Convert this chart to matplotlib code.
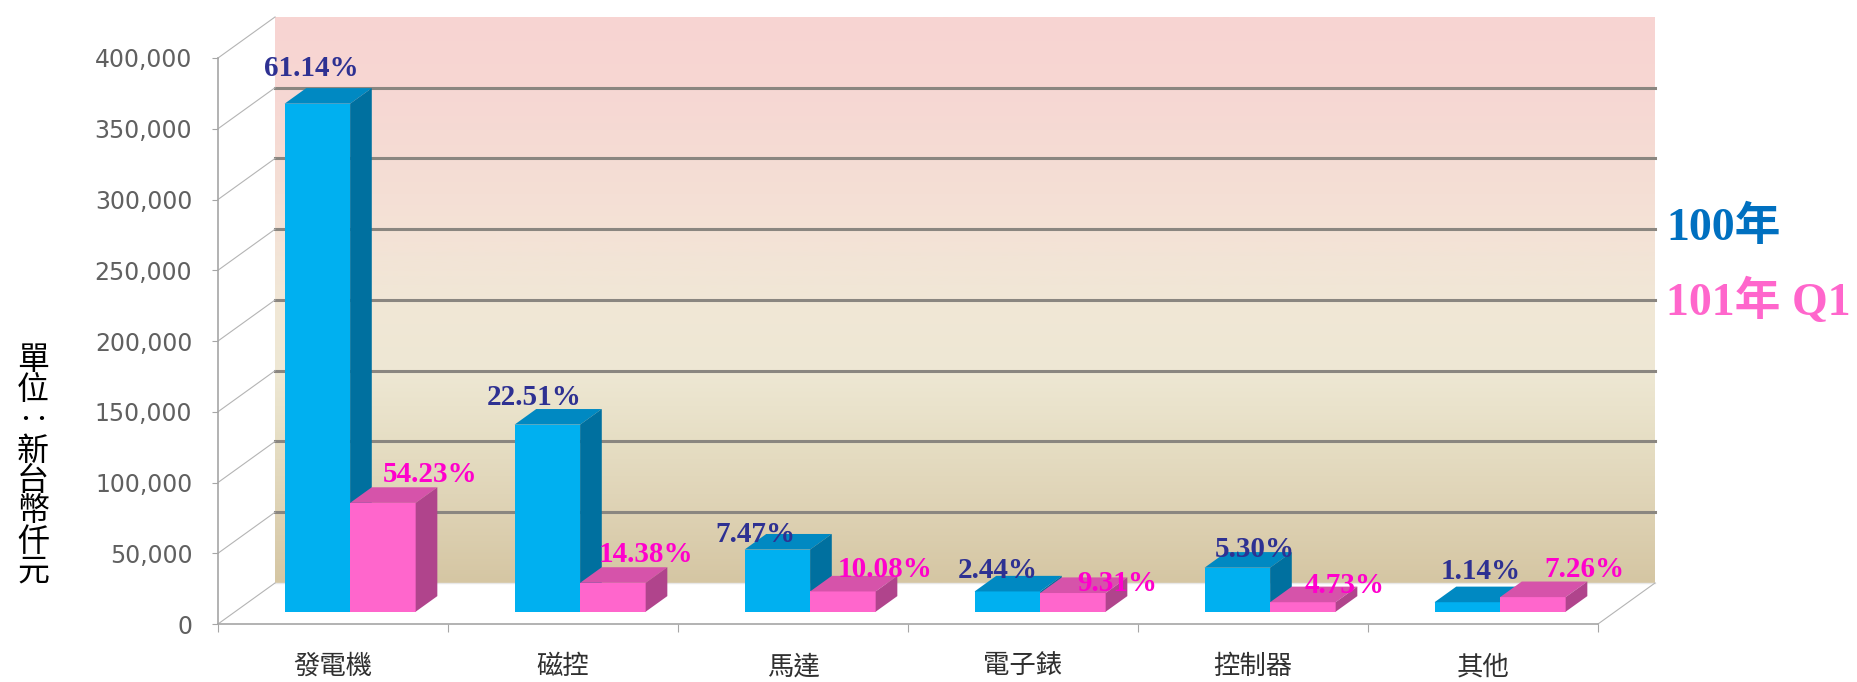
import numpy as np
import matplotlib.pyplot as plt
from matplotlib.patches import Polygon
from matplotlib.colors import LinearSegmentedColormap
from matplotlib.ticker import FuncFormatter

# data (thousand NTD)
categories = ['發電機', '磁控', '馬達', '電子錶', '控制器', '其他']
sales_100 = [359000, 132200, 43900, 14300, 31100, 6700]
sales_101q1 = [76900, 20400, 14300, 13200, 6700, 10300]
share_100 = ['61.14%', '22.51%', '7.47%', '2.44%', '5.30%', '1.14%']
share_101q1 = ['54.23%', '14.38%', '10.08%', '9.31%', '4.73%', '7.26%']
y_ticks = list(range(0, 400001, 50000))

# fake 3-D box: depth of the plot box in axis units
DX = 0.248        # in categories
DY = 29000        # in value units
BAR_D0 = 0.30     # bars stand this far back in the box
BAR_DEPTH = 0.38
BAR_W = 0.285

BLUE = ('#00B0F0', '#0089C2', '#00709F')   # front, top, side
PINK = ('#FF66CC', '#D653AA', '#B0448C')

# hand placed labels in the original (pixel nudges from bar top)
nudge_100 = [(-6, 35), (-13, 27), (-22, 15), (-10, 21), (17, 18), (13, 31)]
nudge_101 = [(47, 28), (33, 28), (42, 22), (44, 10), (42, 17), (52, 28)]

fig = plt.figure(figsize=(18.58, 6.82), dpi=100)
ax = fig.add_axes([218 / 1858, 58 / 682, 1380 / 1858, 566 / 682])

# back wall with gradient
wall = LinearSegmentedColormap.from_list('wall', [
    (0.0, '#D5C6A3'), (0.125, '#DED2B4'), (0.25, '#E6DEC4'),
    (0.376, '#EEE8D4'), (0.5, '#F1E7D6'), (0.628, '#F4E2D6'),
    (0.75, '#F5DCD4'), (0.877, '#F7D7D3'), (1.0, '#F8D4D2')])
grad = np.linspace(0, 1, 256).reshape(-1, 1)
ax.imshow(grad, extent=[DX, 6 + DX, DY, y_ticks[-1] + DY], origin='lower',
          aspect='auto', cmap=wall, clip_on=False, zorder=0)

# wall grid lines
for v in y_ticks[1:-1]:
    ax.plot([DX, 6 + DX], [v + DY, v + DY], color='#8A8680', lw=2.2,
            clip_on=False, zorder=1)
ax.plot([DX, 6 + DX], [DY, DY], color='#E8E8E8', lw=1.0, clip_on=False, zorder=1)

# side wall lines and floor edge
for v in y_ticks:
    ax.plot([0, DX], [v, v + DY], color='#B4B4B4', lw=0.8, clip_on=False, zorder=1)
ax.plot([6, 6 + DX], [0, DY], color='#B4B4B4', lw=0.8, clip_on=False, zorder=1)


def box(x0, h, base, cols, z):
    ax.bar(x0, h, width=BAR_W, bottom=base, align='edge', color=cols[0],
           linewidth=0, zorder=z)
    ddx, ddy = BAR_DEPTH * DX, BAR_DEPTH * DY
    top = base + h
    ax.add_patch(Polygon([(x0, top), (x0 + BAR_W, top),
                          (x0 + BAR_W + ddx, top + ddy), (x0 + ddx, top + ddy)],
                         closed=True, facecolor=cols[1], lw=0, zorder=z))
    ax.add_patch(Polygon([(x0 + BAR_W, base), (x0 + BAR_W, top),
                          (x0 + BAR_W + ddx, top + ddy), (x0 + BAR_W + ddx, base + ddy)],
                         closed=True, facecolor=cols[2], lw=0, zorder=z))


base = BAR_D0 * DY
for i in range(len(categories)):
    c = i + 0.5 + BAR_D0 * DX
    box(c - BAR_W, sales_100[i], base, BLUE, 3)
    box(c, sales_101q1[i], base, PINK, 4)

    nx, ny = nudge_100[i]
    ax.annotate(share_100[i], (c - BAR_W / 2, base + sales_100[i]),
                xytext=(nx * 0.72, ny * 0.72), textcoords='offset points',
                ha='center', va='center', fontsize=21, fontweight='bold',
                family='Liberation Serif', color='#2E3192', zorder=6,
                annotation_clip=False)
    nx, ny = nudge_101[i]
    ax.annotate(share_101q1[i], (c + BAR_W / 2, base + sales_101q1[i]),
                xytext=(nx * 0.72, ny * 0.72), textcoords='offset points',
                ha='center', va='center', fontsize=21, fontweight='bold',
                family='Liberation Serif', color='#FF00CC', zorder=6,
                annotation_clip=False)

ax.set_xlim(0, 6)
ax.set_ylim(0, y_ticks[-1])
ax.patch.set_alpha(0)

for s in ['top', 'right']:
    ax.spines[s].set_visible(False)
for s in ['left', 'bottom']:
    ax.spines[s].set_color('#A6A6A6')
    ax.spines[s].set_linewidth(1.2)

ax.set_yticks(y_ticks)
ax.yaxis.set_major_formatter(FuncFormatter(lambda v, p: f'{int(v):,}'))
ax.tick_params(axis='y', length=4.5, color='#A6A6A6', labelcolor='#606060',
               labelsize=17, pad=14)

ax.set_xticks(range(7))
ax.set_xticklabels([])
ax.set_xticks([i + 0.5 for i in range(6)], minor=True)
ax.set_xticklabels(categories, minor=True, family=['Noto Sans CJK TC', 'DejaVu Sans'],
                   fontsize=19, color='#303030')
ax.tick_params(axis='x', which='major', length=6, color='#A6A6A6')
ax.tick_params(axis='x', which='minor', length=0, pad=21)

# vertical unit label
fig.text(33 / 1858, 1 - 466 / 682, '單\n位\n‥\n新\n台\n幣\n仟\n元',
         ha='center', va='center', fontsize=23, linespacing=0.93,
         family=['Noto Sans CJK TC', 'DejaVu Sans'], color='black')

# legend as coloured text
fig.text(1666 / 1858, 1 - 228 / 682, '100年', ha='left', va='center',
         fontsize=33, fontweight='bold', color='#0070C0',
         family=['Liberation Serif', 'Noto Sans CJK TC'])
fig.text(1666 / 1858, 1 - 302 / 682, '101年 Q1', ha='left', va='center',
         fontsize=33, fontweight='bold', color='#FF66CC',
         family=['Liberation Serif', 'Noto Sans CJK TC'])

fig.savefig('out.png', dpi=100)
